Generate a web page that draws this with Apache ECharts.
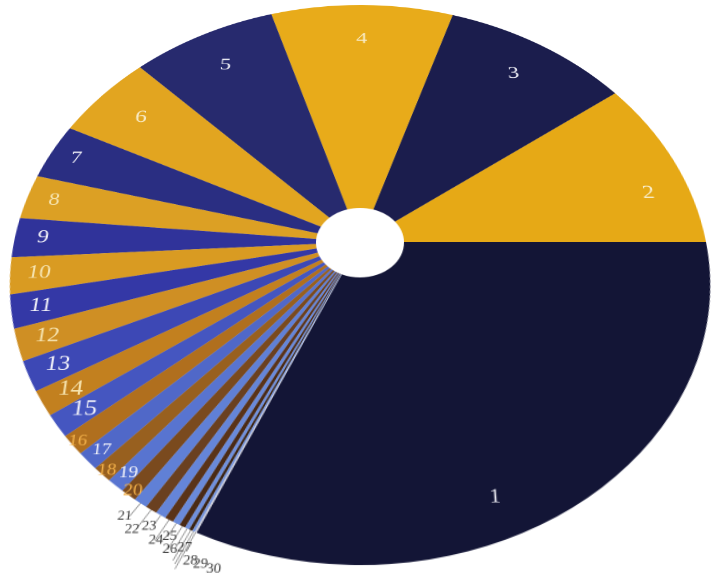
<!DOCTYPE html>
<html><head><meta charset="utf-8">
<script src="https://cdn.jsdelivr.net/npm/echarts@6/dist/echarts.min.js"></script>
<style>
html,body{margin:0;padding:0;width:712px;height:578px;overflow:hidden;background:#ffffff;}
#stage{position:absolute;left:0;top:0;width:712px;height:578px;overflow:hidden;}
#chart{position:absolute;left:-140px;top:-258px;width:1000px;height:1000px;
  transform-origin:500px 500px;transform:perspective(1380px) rotateX(37.8deg);}
</style></head>
<body><div id="stage"><div id="chart"></div></div>
<script>
// Sector numbers (category labels)
const categories = ['1','2','3','4','5','6','7','8','9','10','11','12','13','14','15',
  '16','17','18','19','20','21','22','23','24','25','26','27','28','29','30'];
// Share of each sector (percent)
const values = [31.6, 10.1, 9.9, 9.7, 7.7, 5.2, 3.3, 2.6, 2.3, 2.1, 1.9, 1.8, 1.7, 1.4, 1.25,
  1.1, 0.97, 0.83, 0.75, 0.67, 0.58, 0.5, 0.44, 0.36, 0.31, 0.25, 0.19, 0.14, 0.11, 0.08];
// Sector fill colours
const sectorColors = ['#131536','#e6a916','#1b1d4d','#e8ab1a','#272a6e','#e2a520','#2a2e82','#dca024',
  '#30339a','#d99b22','#3438a6','#cf8f24','#3d48b5','#c2801f','#4556c0','#b06f1e','#5068c8','#98601f',
  '#5874d0','#7a4a1e','#6080d6','#6a4020','#6585d8','#5a3318','#6a8ada','#4a2a15','#7090dc','#3a2414',
  '#7a98de','#c8cad8'];
// Label text colours
const labelColors = ['#e6e6ee','#f8ecc8','#f4f4fa','#f8ecc8','#f4f4fa','#f8ecc8','#f4f4fa','#f6e4b0',
  '#f4f4fa','#f6e4b0','#f4f4fa','#f6e4b0','#f4f4fa','#f6e4b0','#f4f4fa','#f2b04a','#f4f4fa','#f2b04a',
  '#f4f4fa','#f2b04a','#3a3a3a','#3a3a3a','#3a3a3a','#3a3a3a','#3a3a3a','#3a3a3a','#3a3a3a','#3a3a3a',
  '#3a3a3a','#3a3a3a'];
// Leader-line lengths and sideways nudges for the outside numbers 21–30 (styling only)
const leaderLengths = [15, 22, 12, 22, 14, 24, 20, 31, 33, 37];
const leaderNudges = [7, 8, 8, 12, 13, 13, 19, 26, 33, 44];
// Small label nudges [dx, dy] for the numbers in the two largest sectors (styling only)
const bigLabelNudges = [[-40, 39], [21, 27]];

const R = 346;
const total = values.reduce((a, b) => a + b, 0);
const startAngle = 360 - values[0] / total * 360;
const FONT = '"Liberation Serif", "DejaVu Serif", serif';

function buildData(showFn, fill) {
  return categories.map((name, i) => {
    const outer = fill && i >= 20;
    const item = {
      name: name,
      value: values[i],
      itemStyle: { color: fill ? sectorColors[i] : 'rgba(0,0,0,0)' },
      label: { show: showFn(i), color: labelColors[i] },
      labelLine: { show: outer }
    };
    if (i === 0) item.label.fontSize = 20;
    if (outer) {
      item.labelLine.length = leaderLengths[i - 20];
      item.labelLine.length2 = 0;
    }
    return item;
  });
}

const common = {
  type: 'pie',
  center: ['50%', '50%'],
  startAngle: startAngle,
  clockwise: false,
  silent: true,
  animation: false,
  emphasis: { disabled: true },
  avoidLabelOverlap: false,
  labelLine: { show: false },
  labelLayout: { hideOverlap: false }
};

function labelSeries(name, r0, r1, size, showFn, layout) {
  const s = Object.assign({}, common, {
    name: name,
    radius: [r0 * R, r1 * R],
    label: { position: 'inside', fontFamily: FONT, fontSize: size },
    data: buildData(showFn, false)
  });
  if (layout) s.labelLayout = layout;
  return s;
}

const chart = echarts.init(document.getElementById('chart'), null, { renderer: 'canvas', devicePixelRatio: 2 });
chart.setOption({
  backgroundColor: 'transparent',
  animation: false,
  series: [
    Object.assign({}, common, {
      name: 'sectors',
      radius: [44, R],
      label: { position: 'outside', fontFamily: FONT, fontSize: 12.5, color: '#3a3a3a' },
      labelLine: { length: 10, length2: 0, lineStyle: { color: '#8a8a8a', width: 0.8 } },
      labelLayout: function (p) {
        const k = p.dataIndex - 20;
        return { hideOverlap: false, dx: k >= 0 ? leaderNudges[k] : 0 };
      },
      data: buildData(i => i >= 20, true)
    }),
    labelSeries('labelsLarge', 0.66, 1.0, 25, i => i < 6, function (p) {
      const n = bigLabelNudges[p.dataIndex];
      return n ? { hideOverlap: false, dx: n[0], dy: n[1] } : { hideOverlap: false };
    }),
    labelSeries('labelsMid', 0.82, 1.0, 23, i => i >= 6 && i < 15),
    labelSeries('labelsSmallEven', 0.93, 1.02, 17, i => i >= 15 && i < 20 && i % 2 === 1),
    labelSeries('labelsSmallOdd', 0.89, 1.0, 17, i => i >= 15 && i < 20 && i % 2 === 0)
  ]
});
</script>
</body></html>
